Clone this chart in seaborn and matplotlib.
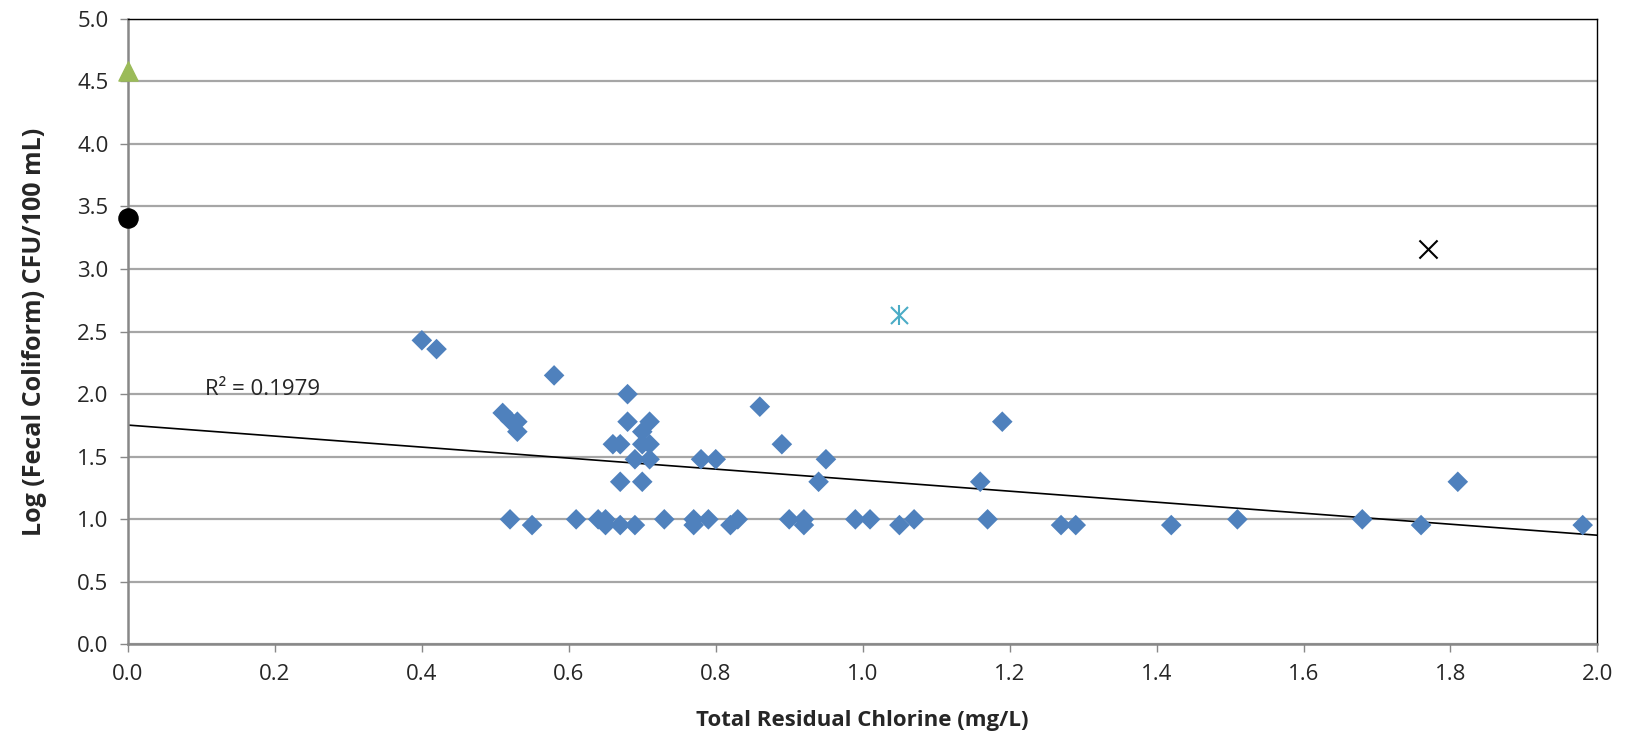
import numpy as np
import pandas as pd
import matplotlib
matplotlib.use("Agg")
import matplotlib.pyplot as plt
import seaborn as sns

# Diamonds: samples with residual chlorine
chlorine = [0.40, 0.42, 0.58, 0.68, 0.51, 0.52, 0.53, 0.53, 0.68, 0.71, 0.70,
            0.86, 1.19, 0.89, 0.66, 0.67, 0.70, 0.71, 0.69, 0.71, 0.78, 0.80,
            0.95, 0.67, 0.70, 0.94, 1.16, 1.81,
            0.52, 0.61, 0.64, 0.65, 0.73, 0.77, 0.79, 0.83, 0.90, 0.92, 0.99,
            1.01, 1.07, 1.17, 1.51, 1.68,
            0.55, 0.65, 0.67, 0.69, 0.77, 0.82, 0.92, 1.05, 1.27, 1.29, 1.42,
            1.76, 1.98]
log_fc = [2.43, 2.36, 2.15, 2.00, 1.85, 1.79, 1.78, 1.70, 1.78, 1.78, 1.70,
          1.90, 1.78, 1.60, 1.60, 1.60, 1.60, 1.60, 1.48, 1.48, 1.48, 1.48,
          1.48, 1.30, 1.30, 1.30, 1.30, 1.30,
          1.00, 1.00, 1.00, 1.00, 1.00, 1.00, 1.00, 1.00, 1.00, 1.00, 1.00,
          1.00, 1.00, 1.00, 1.00, 1.00,
          0.954, 0.954, 0.954, 0.954, 0.954, 0.954, 0.954, 0.954, 0.954,
          0.954, 0.954, 0.954, 0.954]

# single-point series
tri_x, tri_y = [0.0], [4.58]
circ_x, circ_y = [0.0], [3.41]
cross_x, cross_y = [1.77], [3.16]
star_x, star_y = [1.05], [2.63]

# Excel linear trendline
trend_intercept = 1.753
trend_slope = -0.44
trend_x = [0.0, 2.0]
r2_label = "R² = 0.1979"

df = pd.DataFrame({"chlorine": chlorine, "log_fc": log_fc})
trend = pd.DataFrame({"x": trend_x})
trend["y"] = trend_intercept + trend_slope * trend["x"]

sns.set_style("white")
plt.rcParams["font.family"] = ["Open Sans", "DejaVu Sans"]

fig = plt.figure(figsize=(16.3, 7.38), dpi=100)
ax = fig.add_axes([0.0785, 0.1267, 0.9015, 0.848])
ax.set_xlim(0, 2.0)
ax.set_ylim(0, 5.0)

ax.yaxis.grid(True, color="#a6a6a6", linewidth=1.6)
ax.set_axisbelow(True)

sns.lineplot(data=trend, x="x", y="y", color="black", linewidth=1.2, ax=ax, zorder=2)

sns.scatterplot(data=df, x="chlorine", y="log_fc", marker="D", s=110,
                color="#4f81bd", edgecolor="none", ax=ax, clip_on=False, zorder=3)
ax.scatter(tri_x, tri_y, marker="^", s=190, color="#9bbb59", clip_on=False, zorder=4)
ax.scatter(circ_x, circ_y, marker="o", s=190, color="black", clip_on=False, zorder=4)
ax.scatter(cross_x, cross_y, marker="x", s=170, color="black", linewidths=1.5, zorder=4)
ax.scatter(star_x, star_y, marker="x", s=150, color="#4bacc6", linewidths=1.5, zorder=4)
ax.scatter(star_x, star_y, marker="|", s=190, color="#4bacc6", linewidths=1.5, zorder=4)

ax.text(0.105, 1.99, r2_label, fontsize=16, va="baseline", ha="left")

ax.set_xticks(np.arange(0, 2.01, 0.2))
ax.set_yticks(np.arange(0, 5.01, 0.5))
ax.xaxis.set_major_formatter(matplotlib.ticker.FormatStrFormatter("%.1f"))
ax.yaxis.set_major_formatter(matplotlib.ticker.FormatStrFormatter("%.1f"))
ax.tick_params(axis="both", labelsize=16, length=6, width=1, color="#888888",
               direction="out", pad=8)
ax.tick_params(axis="x", bottom=True)
ax.tick_params(axis="y", left=True)

for side in ["left", "bottom"]:
    ax.spines[side].set_color("#888888")
    ax.spines[side].set_linewidth(1.8)
for side in ["top", "right"]:
    ax.spines[side].set_color("black")
    ax.spines[side].set_linewidth(1.0)

ax.set_xlabel("Total Residual Chlorine (mg/L)", fontsize=16, fontweight="bold", labelpad=18)
ax.set_ylabel("Log (Fecal Coliform) CFU/100 mL)", fontsize=18, fontweight="bold", labelpad=22)

fig.savefig("out.png", dpi=100)
